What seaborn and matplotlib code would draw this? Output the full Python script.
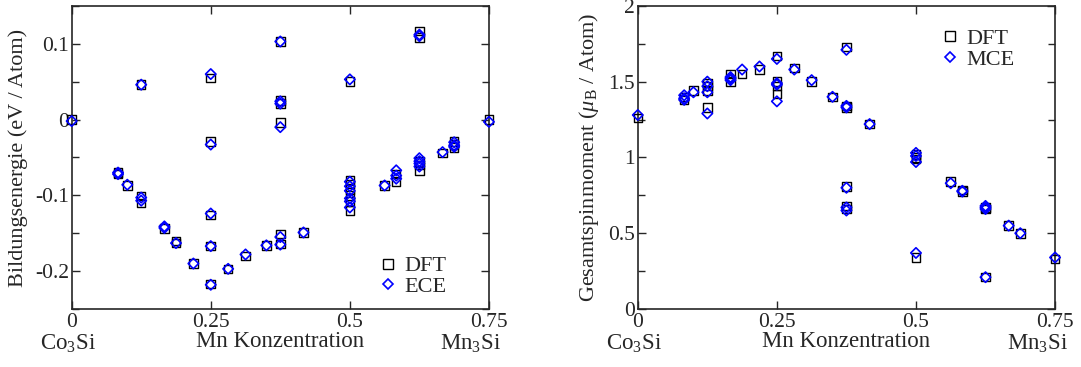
import numpy as np
import pandas as pd
import matplotlib
matplotlib.use("Agg")
import matplotlib.pyplot as plt
from matplotlib.lines import Line2D
from matplotlib.ticker import MultipleLocator
import seaborn as sns

# Mn concentrations (x)
conc = [0, 1/12, 0.1, 0.125, 1/6, 0.1875, 0.21875, 0.25, 0.28125, 0.3125,
        0.35, 0.375, 5/12, 0.5, 0.5625, 7/12, 0.625, 2/3, 0.6875, 0.75]

# formation energy (eV / atom), one list per concentration
e_dft = [[0.0], [-0.072, -0.070], [-0.087], [0.046, -0.101, -0.110], [-0.144],
         [-0.160, -0.163], [-0.190], [0.055, -0.029, -0.126, -0.167, -0.217],
         [-0.197], [-0.180], [-0.166], [0.103, 0.025, 0.021, -0.004, -0.151, -0.164],
         [-0.149], [0.050, -0.080, -0.085, -0.092, -0.100, -0.108, -0.120],
         [-0.087], [-0.072, -0.082], [0.117, 0.108, -0.055, -0.060, -0.068],
         [-0.044], [-0.029, -0.033, -0.037], [0.0]]
e_ece = [[-0.002], [-0.070, -0.072], [-0.086], [0.046, -0.103, -0.107], [-0.141, -0.143],
         [-0.163], [-0.190], [0.060, -0.033, -0.124, -0.167, -0.218],
         [-0.197], [-0.178], [-0.166], [0.103, 0.024, 0.021, -0.010, -0.155, -0.165],
         [-0.149], [0.053, -0.082, -0.088, -0.094, -0.104, -0.108, -0.116],
         [-0.087], [-0.067, -0.074, -0.078], [0.112, 0.110, -0.051, -0.055, -0.058, -0.062],
         [-0.043], [-0.030, -0.034, -0.036], [-0.003]]

# total spin moment (mu_B / atom)
m_dft = [[1.26], [1.40, 1.38], [1.44], [1.49, 1.47, 1.44, 1.33], [1.55, 1.50],
         [1.55], [1.58], [1.67, 1.50, 1.47, 1.42], [1.59], [1.50], [1.40],
         [1.73, 1.33, 1.34, 0.81, 0.68, 0.66], [1.22], [1.02, 1.00, 0.99, 0.34],
         [0.84], [0.785, 0.775], [0.67, 0.66, 0.21], [0.55], [0.50], [0.33]]
m_mce = [[1.28], [1.41, 1.39, 1.38], [1.43], [1.50, 1.47, 1.43, 1.29], [1.53, 1.52, 1.51],
         [1.58], [1.60], [1.65, 1.49, 1.48, 1.37], [1.58], [1.51], [1.40],
         [1.71, 1.34, 1.33, 0.80, 0.67, 0.65], [1.22], [1.03, 1.01, 0.97, 0.37],
         [0.83], [0.78, 0.775], [0.68, 0.67, 0.66, 0.21], [0.55], [0.50], [0.34]]

x_ticks = [0, 0.25, 0.5, 0.75]
x_ticklabels = ["0", "0.25", "0.5", "0.75"]
e_ticks = [-0.2, -0.1, 0, 0.1]
e_ticklabels = ["-0.2", "-0.1", "0", "0.1"]
m_ticks = [0, 0.5, 1, 1.5, 2]
m_ticklabels = ["0", "0.5", "1", "1.5", "2"]


def to_df(vals):
    rows = [(c, v) for c, vs in zip(conc, vals) for v in vs]
    return pd.DataFrame(rows, columns=["x", "y"])


sns.set_style("ticks")
plt.rcParams["font.family"] = ["Liberation Serif", "DejaVu Serif"]
plt.rcParams["mathtext.fontset"] = "custom"
plt.rcParams["mathtext.rm"] = "Liberation Serif"
plt.rcParams["mathtext.it"] = "Liberation Serif:italic"

fig = plt.figure(figsize=(10.81, 3.67), dpi=100)
ax1 = fig.add_axes([0.0663, 0.158, 0.386, 0.826])
ax2 = fig.add_axes([0.590, 0.158, 0.386, 0.826])


def panel(ax, d1, d2, ylim, ticks, ticklabels, minor, ylabel, name2, leg_pos):
    sns.scatterplot(data=to_df(d1), x="x", y="y", ax=ax, marker="s", s=38,
                    facecolor="none", edgecolor="black", linewidth=1.0,
                    clip_on=False, zorder=3)
    sns.scatterplot(data=to_df(d2), x="x", y="y", ax=ax, marker="D", s=28,
                    facecolor="none", edgecolor="#0000ff", linewidth=1.2,
                    clip_on=False, zorder=4)
    ax.set_xlim(0, 0.75)
    ax.set_ylim(*ylim)
    ax.set_xticks(x_ticks)
    ax.set_xticklabels(x_ticklabels)
    ax.set_yticks(ticks)
    ax.set_yticklabels(ticklabels)
    ax.yaxis.set_minor_locator(MultipleLocator(minor))
    ax.tick_params(which="both", direction="in", top=True, right=True,
                   labelsize=15.5, width=1.0, pad=3)
    ax.tick_params(axis="y", pad=2)
    ax.tick_params(which="major", length=6)
    ax.tick_params(which="minor", length=5)
    for sp in ax.spines.values():
        sp.set_linewidth(1.2)
        sp.set_visible(True)
    ax.set_xlabel("Mn Konzentration", fontsize=16.5, labelpad=-1)
    ax.set_ylabel(ylabel, fontsize=16, labelpad=5)
    ax.text(-0.009, -0.116, r"Co$_3$Si", transform=ax.transAxes, fontsize=16.5,
            ha="center", va="center")
    ax.text(0.957, -0.116, r"Mn$_3$Si", transform=ax.transAxes, fontsize=16.5,
            ha="center", va="center")
    handles = [Line2D([], [], ls="none", marker="s", ms=6.5, mfc="none",
                      mec="black", mew=1.0, label="DFT"),
               Line2D([], [], ls="none", marker="D", ms=5.4, mfc="none",
                      mec="#0000ff", mew=1.2, label=name2)]
    ax.legend(handles=handles, loc="upper left", bbox_to_anchor=leg_pos,
              frameon=False, fontsize=16, handletextpad=0.25, handlelength=1.0,
              labelspacing=0.0, borderaxespad=0)


panel(ax1, e_dft, e_ece, (-0.25, 0.15), e_ticks, e_ticklabels, 0.05,
      "Bildungsenergie (eV / Atom)", "ECE", (0.71, 0.205))
panel(ax2, m_dft, m_mce, (0, 2), m_ticks, m_ticklabels, 0.25,
      r"Gesamtspinmoment ($\mu_\mathrm{B}$ / Atom)", "MCE", (0.70, 0.955))

fig.savefig("out.png", dpi=100)
